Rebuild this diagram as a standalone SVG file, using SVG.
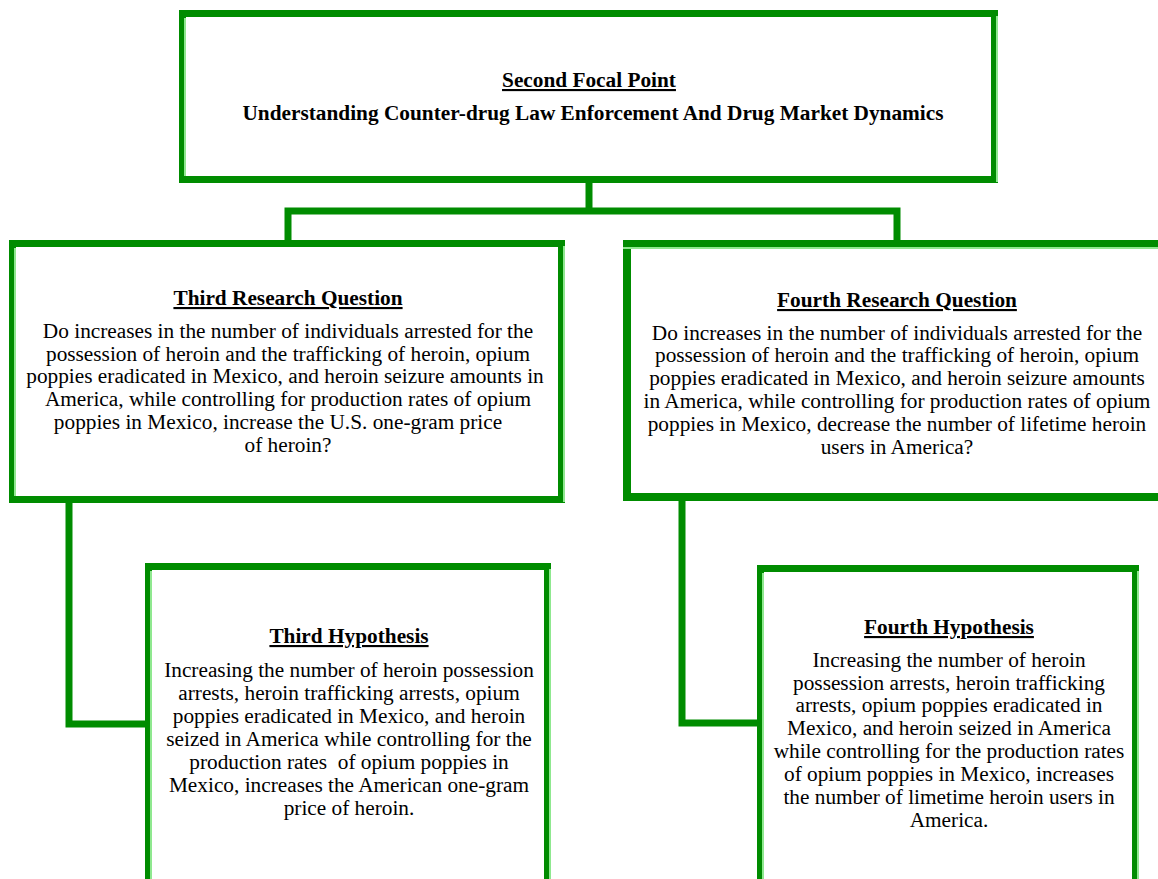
<svg xmlns="http://www.w3.org/2000/svg" width="1158" height="879" viewBox="0 0 1158 879">
  <style>
    .frame { fill: #ffffff; stroke: #008c00; stroke-width: 7; }
    .hi { fill: none; stroke: #8fe88f; stroke-width: 2; }
    .link { fill: none; stroke: #008c00; stroke-width: 7; stroke-linejoin: miter; }
    text { font-family: "Liberation Serif", "Times New Roman", serif; fill: #000000; text-anchor: middle; }
    .head { font-size: 21.3px; font-weight: bold; text-decoration: underline; }
    .title { font-size: 21.3px; font-weight: bold; }
    .body { font-size: 21.3px; white-space: pre; }
  </style>

  <!-- connectors -->
  <g id="connectors">
    <polyline class="link" points="589,183 589,211"/>
    <polyline class="link" points="288,240 288,211 897,211 897,240"/>
    <polyline class="link" points="69,503 69,724 146,724"/>
    <polyline class="link" points="682,501 682,723 758,723"/>
  </g>

  <!-- top focal point -->
  <g id="focal-point">
    <rect class="frame" x="182.5" y="13.5" width="812" height="166"/>
    <line class="hi" x1="185" y1="18" x2="185" y2="176"/>
    <line class="hi" x1="997" y1="16" x2="997" y2="182"/>
    <text class="head" x="589" y="87">Second Focal Point</text>
    <text class="title" x="593" y="120">Understanding Counter-drug Law Enforcement And Drug Market Dynamics</text>
  </g>

  <!-- third research question -->
  <g id="third-question">
    <rect class="frame" x="12.5" y="243.5" width="549" height="256"/>
    <line class="hi" x1="15" y1="248" x2="15" y2="496"/>
    <line class="hi" x1="564" y1="246" x2="564" y2="502"/>
    <text class="head" x="288" y="305">Third Research Question</text>
    <text class="body" x="288" y="338">Do increases in the number of individuals arrested for the</text>
    <text class="body" x="288" y="361">possession of heroin and the trafficking of heroin, opium</text>
    <text class="body" x="285" y="383">poppies eradicated in Mexico, and heroin seizure amounts in</text>
    <text class="body" x="288" y="406">America, while controlling for production rates of opium</text>
    <text class="body" x="278" y="429">poppies in Mexico, increase the U.S. one-gram price</text>
    <text class="body" x="288" y="452">of heroin?</text>
  </g>

  <!-- fourth research question -->
  <g id="fourth-question">
    <rect class="frame" x="627" y="244" width="540" height="253" style="stroke-width:8"/>
    <line class="hi" x1="623" y1="248" x2="1158" y2="248"/>
    <text class="head" x="897" y="307">Fourth Research Question</text>
    <text class="body" x="897" y="340">Do increases in the number of individuals arrested for the</text>
    <text class="body" x="897" y="362">possession of heroin and the trafficking of heroin, opium</text>
    <text class="body" x="897" y="385">poppies eradicated in Mexico, and heroin seizure amounts</text>
    <text class="body" x="897" y="408">in America, while controlling for production rates of opium</text>
    <text class="body" x="897" y="431">poppies in Mexico, decrease the number of lifetime heroin</text>
    <text class="body" x="897" y="454">users in America?</text>
  </g>

  <!-- third hypothesis -->
  <g id="third-hypothesis">
    <rect class="frame" x="148.5" y="566.5" width="399" height="330"/>
    <line class="hi" x1="151" y1="571" x2="151" y2="879"/>
    <line class="hi" x1="550" y1="569" x2="550" y2="879"/>
    <text class="head" x="349" y="643">Third Hypothesis</text>
    <text class="body" x="349" y="677">Increasing the number of heroin possession</text>
    <text class="body" x="349" y="700">arrests, heroin trafficking arrests, opium</text>
    <text class="body" x="349" y="723">poppies eradicated in Mexico, and heroin</text>
    <text class="body" x="349" y="746">seized in America while controlling for the</text>
    <text class="body" x="349" y="769">production rates  of opium poppies in</text>
    <text class="body" x="349" y="792">Mexico, increases the American one-gram</text>
    <text class="body" x="349" y="815">price of heroin.</text>
  </g>

  <!-- fourth hypothesis -->
  <g id="fourth-hypothesis">
    <rect class="frame" x="760.5" y="568.5" width="375" height="330"/>
    <line class="hi" x1="763" y1="573" x2="763" y2="879"/>
    <line class="hi" x1="1138" y1="571" x2="1138" y2="879"/>
    <text class="head" x="949" y="634">Fourth Hypothesis</text>
    <text class="body" x="949" y="667">Increasing the number of heroin</text>
    <text class="body" x="949" y="690">possession arrests, heroin trafficking</text>
    <text class="body" x="949" y="712">arrests, opium poppies eradicated in</text>
    <text class="body" x="949" y="735">Mexico, and heroin seized in America</text>
    <text class="body" x="949" y="758">while controlling for the production rates</text>
    <text class="body" x="949" y="781">of opium poppies in Mexico, increases</text>
    <text class="body" x="949" y="804">the number of limetime heroin users in</text>
    <text class="body" x="949" y="827">America.</text>
  </g>
</svg>
